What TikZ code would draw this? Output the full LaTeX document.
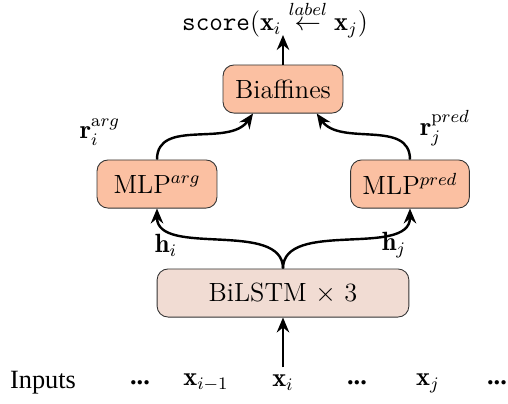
\documentclass[tikz,border=0pt]{standalone}
\usepackage{amsmath, amssymb}
\usepackage{fontspec}
\newfontfamily\timesfont{Liberation Serif}
\usetikzlibrary{arrows.meta}
\definecolor{mlpcol}{RGB}{251,192,162}
\definecolor{lstmcol}{RGB}{241,220,211}

\begin{document}
\begin{tikzpicture}[x=0.016cm,y=-0.016cm]
\useasboundingbox (0,0) rectangle (508,403);
%\tikzstyle{layer}=[rounded corners,draw]
\begin{scope}[every node/.style={font=\large}]
    \node (S) at (275,19) {\texttt{score}$(\mathbf{x}_i \stackrel{label}{\leftarrow} \mathbf{x}_j)$};
    \coordinate (T) at (283,35);
    \node[draw=black!80,fill=mlpcol,rounded corners=5pt,minimum width=1.92cm,minimum height=0.77cm] (B) at (283,89) {Biaffines};
    \node[draw=black!80,fill=mlpcol,rounded corners=5pt,minimum width=1.92cm,minimum height=0.77cm] (MA) at (157,184) {MLP$^{arg}$};
    \node[draw=black!80,fill=mlpcol,rounded corners=5pt,minimum width=1.9cm,minimum height=0.77cm] (MP) at (410,184) {MLP$^{pred}$};
    \node[draw=black!80,fill=lstmcol,rounded corners=5pt,minimum width=4.03cm,minimum height=0.77cm] (L) at (283,293) {BiLSTM $\times$ 3};

    \node (RA) at (100,132) {$\mathbf{r}_i^{\mathrm{a}rg}$};
    \node (RP) at (445,128) {$\mathbf{r}_j^{\mathrm{p}red}$};
    \node (HI) at (166,245) {$\mathbf{h}_i$};
    \node (HJ) at (394,245) {$\mathbf{h}_j$};

    \node (IN) at (43,383) {\timesfont Inputs};
    \node (D1) at (140,383) {\timesfont\bfseries ...};
    \node (X1) at (206,383) {$\mathbf{x}_{i-1}$};
    \node (X2) at (283,383) {$\mathbf{x}_i$};
    \node (D2) at (357,383) {\timesfont\bfseries ...};
    \node (X3) at (428,383) {$\mathbf{x}_j$};
    \node (D3) at (497,383) {\timesfont\bfseries ...};
\end{scope}

\begin{scope}[>={Stealth[length=2.4mm,width=2mm,inset=0.8mm]},
              every edge/.style={draw=black,line width=1.1pt}]
    \path [->] (X2) edge (L);
    \path [->] (L.north) edge [out=90,in=-90,looseness=0.9] (MA.south);
    \path [->] (L.north) edge [out=90,in=-90,looseness=0.9] (MP.south);
    \path [->] (MA.north) edge [out=90,in=-125] ([xshift=-0.48cm]B.south);
    \path [->] (MP.north) edge [out=90,in=-55] ([xshift=0.54cm]B.south);
    \path [->] (B) edge (T);
\end{scope}
\end{tikzpicture}
\end{document}
